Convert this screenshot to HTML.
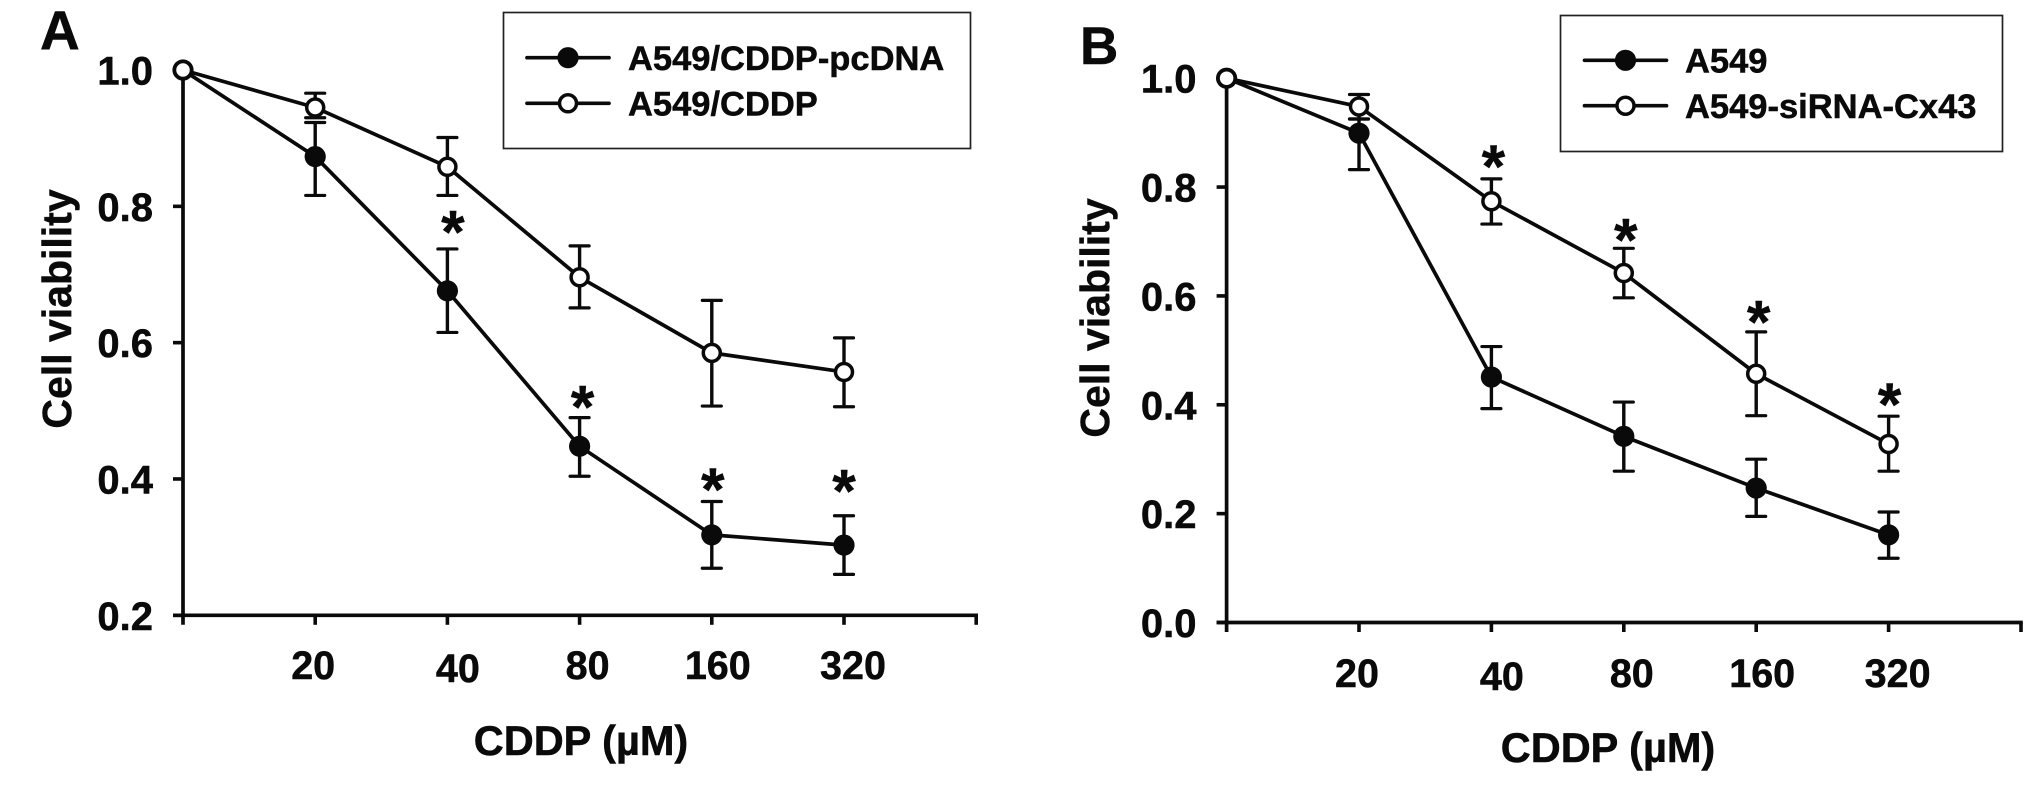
<!DOCTYPE html>
<html lang="en">
<head>
<meta charset="utf-8">
<title>Cell viability vs CDDP</title>
<style>
html,body{margin:0;padding:0;background:#fff;width:2035px;height:786px;overflow:hidden}
svg{display:block}
text{font-family:"Liberation Sans",sans-serif;font-weight:bold;fill:#0a0a0a;stroke:#0a0a0a;stroke-width:.5px}
</style>
</head>
<body>
<svg id="figure" xmlns="http://www.w3.org/2000/svg" width="2035" height="786" viewBox="0 0 2035 786">
  <rect x="0" y="0" width="2035" height="786" fill="#fff"/>
</svg>
<script>
// Shared categories
const doseLabels = ["20", "40", "80", "160", "320"];

// Panel A data
const aTicks = [0.2, 0.4, 0.6, 0.8, 1.0];
const aFilledName = "A549/CDDP-pcDNA";
const aFilled = [1.0, 0.873, 0.676, 0.448, 0.318, 0.303];
const aFilledHigh = [null, 0.923, 0.7375, 0.490, 0.367, 0.346];
const aFilledLow = [null, 0.816, 0.615, 0.404, 0.269, 0.260];
const aOpenName = "A549/CDDP";
const aOpen = [1.0, 0.945, 0.858, 0.696, 0.585, 0.557];
const aOpenHigh = [null, 0.966, 0.901, 0.742, 0.662, 0.607];
const aOpenLow = [null, 0.930, 0.816, 0.651, 0.507, 0.506];
const aStars = [null, null, 0.775, 0.518, 0.397, 0.395];

// Panel B data
const bTicks = [0.0, 0.2, 0.4, 0.6, 0.8, 1.0];
const bFilledName = "A549";
const bFilled = [1.0, 0.899, 0.451, 0.342, 0.247, 0.161];
const bFilledHigh = [null, 0.925, 0.507, 0.405, 0.300, 0.203];
const bFilledLow = [null, 0.832, 0.393, 0.278, 0.195, 0.118];
const bOpenName = "A549-siRNA-Cx43";
const bOpen = [1.0, 0.948, 0.774, 0.642, 0.457, 0.328];
const bOpenHigh = [null, 0.970, 0.815, 0.6875, 0.534, 0.379];
const bOpenLow = [null, 0.925, 0.732, 0.5965, 0.380, 0.278];
const bStars = [null, null, 0.853, 0.718, 0.568, 0.416];

const svg = document.getElementById("figure");
const NS = "http://www.w3.org/2000/svg";
const INK = "#0a0a0a";

function make(tag, attrs, parent) {
  const el = document.createElementNS(NS, tag);
  for (const k in attrs) el.setAttribute(k, attrs[k]);
  parent.appendChild(el);
  return el;
}

function drawPanel(p) {
  const x = i => p.x0 + p.xStep * i;
  const y = v => p.yBase - (v - p.yMin) * p.yPerUnit;

  const g = make("g", {}, svg);
  
  

  const letter = make("text", {x: p.letterX, y: p.letterY, "font-size": p.letterSize}, g);
  
  
  letter.textContent = p.letter;

  // Axes
  const yAxis = make("line", {x1: x(0), x2: x(0), y1: y(1), y2: p.yBase + 9.5, stroke: INK, "stroke-width": 3.7}, g);
  
  
  const xAxis = make("line", {x1: x(0) - 10, x2: x(6) + 1.8, y1: p.yBase, y2: p.yBase, stroke: INK, "stroke-width": 3.7}, g);
  
  

  p.ticks.forEach(t => {
    const tick = make("line", {x1: x(0) - 10, x2: x(0), y1: y(t), y2: y(t), stroke: INK, "stroke-width": 3.6}, g);
    
    
    const label = make("text", {x: p.yLabelRight, y: y(t) + 14.5, "font-size": 40, "text-anchor": "end"}, g);
    
    
    label.textContent = t.toFixed(1);
  });

  for (let i = 1; i <= 6; i++) {
    const tick = make("line", {x1: x(i), x2: x(i), y1: p.yBase, y2: p.yBase + 9.5, stroke: INK, "stroke-width": 3.6}, g);
    
    
  }

  const nudgeX = [-2, 10.5, 8, 6, 9];
  const nudgeY = [0, 3, 0, 0, 0];
  doseLabels.forEach((d, i) => {
    const label = make("text", {x: x(i + 1) + nudgeX[i], y: p.xLabelBase + nudgeY[i], "font-size": 39.5, "text-anchor": "middle"}, g);
    
    
    label.textContent = d;
  });

  const xTitle = make("text", {x: p.xTitleX, y: p.xTitleY, "font-size": 41.5, "text-anchor": "middle"}, g);
  
  
  xTitle.textContent = "CDDP (\u00B5M)";

  const yTitle = make("text", {x: 0, y: 0, "font-size": 41, "text-anchor": "middle", transform: "translate(" + p.yTitleX + " " + p.yTitleY + ") rotate(-90)"}, g);
  
  
  yTitle.textContent = "Cell viability";

  // Series
  p.series.forEach(s => {
    const sg = make("g", {}, g);
    
    

    s.values.forEach((v, i) => {
      if (s.high[i] === null) return;
      const bar = make("line", {x1: x(i), x2: x(i), y1: y(s.high[i]), y2: y(s.low[i]), stroke: INK, "stroke-width": 3.4}, sg);
      
      
      const capTop = make("line", {x1: x(i) - 9.5, x2: x(i) + 9.5, y1: y(s.high[i]), y2: y(s.high[i]), stroke: INK, "stroke-width": 3.2, "stroke-linecap": "round"}, sg);
      
      
      const capLow = make("line", {x1: x(i) - 9.5, x2: x(i) + 9.5, y1: y(s.low[i]), y2: y(s.low[i]), stroke: INK, "stroke-width": 3.2, "stroke-linecap": "round"}, sg);
      
      
    });

    const pts = s.values.map((v, i) => x(i) + "," + y(v)).join(" ");
    const line = make("polyline", {points: pts, fill: "none", stroke: INK, "stroke-width": 3.7, "stroke-linejoin": "round"}, sg);
    
    

    s.values.forEach((v, i) => {
      const pt = make("circle", s.open
        ? {cx: x(i), cy: y(v), r: 8.5, fill: "#fff", stroke: INK, "stroke-width": 3.5}
        : {cx: x(i), cy: y(v), r: 10.6, fill: INK}, sg);
      
      
    });
  });

  // Significance asterisks
  p.stars.forEach((v, i) => {
    if (v === null) return;
    const star = make("text", {x: x(i) + p.starShift[i], y: y(v) + 29, "font-size": 60, "text-anchor": "middle"}, g);
    
    
    star.textContent = "*";
  });

  // Legend
  const lg = make("g", {}, g);
  
  
  const box = make("rect", {x: p.lgX, y: p.lgY, width: p.lgW, height: p.lgH, fill: "#fff", stroke: "#222", "stroke-width": 1.7}, lg);
  
  
  p.series.forEach((s, i) => {
    const ly = p.lgLineY + i * p.lgRow;
    const e = make("g", {}, lg);
    
    
    const l = make("line", {x1: p.lgLineX, x2: p.lgLineX + 82, y1: ly, y2: ly, stroke: INK, "stroke-width": 3.7, "stroke-linecap": "round"}, e);
    
    
    const c = make("circle", s.open
      ? {cx: p.lgLineX + 41, cy: ly, r: 8.5, fill: "#fff", stroke: INK, "stroke-width": 3.5}
      : {cx: p.lgLineX + 41, cy: ly, r: 10.6, fill: INK}, e);
    
    
    const t = make("text", {x: p.lgTextX, y: ly + 12.3, "font-size": 34.5}, e);
    
    
    t.textContent = s.name;
  });
}

drawPanel({
  id: "panel-a", letter: "A", letterX: 40, letterY: 49, letterSize: 55,
  x0: 183, xStep: 132.2, yBase: 615.3, yMin: 0.2, yPerUnit: 681.6,
  ticks: aTicks, yLabelRight: 153, xLabelBase: 679,
  xTitleX: 581, xTitleY: 755, yTitleX: 71, yTitleY: 309,
  stars: aStars, starShift: [0, 0, 5.5, 3, 1, 0],
  lgX: 503.5, lgY: 12.5, lgW: 467, lgH: 136, lgLineX: 527, lgLineY: 57.7, lgRow: 45.6, lgTextX: 628,
  series: [
    {key: "filled", name: aFilledName, open: false, values: aFilled, high: aFilledHigh, low: aFilledLow},
    {key: "open", name: aOpenName, open: true, values: aOpen, high: aOpenHigh, low: aOpenLow}
  ]
});

drawPanel({
  id: "panel-b", letter: "B", letterX: 1080, letterY: 64, letterSize: 53,
  x0: 1226.6, xStep: 132.4, yBase: 622.5, yMin: 0, yPerUnit: 544.3,
  ticks: bTicks, yLabelRight: 1196.5, xLabelBase: 687,
  xTitleX: 1608, xTitleY: 762, yTitleX: 1109, yTitleY: 318,
  stars: bStars, starShift: [0, 0, 2, 2, 2.5, 1],
  lgX: 1560.5, lgY: 15.5, lgW: 442, lgH: 136, lgLineX: 1584.5, lgLineY: 60.3, lgRow: 45.4, lgTextX: 1685,
  series: [
    {key: "filled", name: bFilledName, open: false, values: bFilled, high: bFilledHigh, low: bFilledLow},
    {key: "open", name: bOpenName, open: true, values: bOpen, high: bOpenHigh, low: bOpenLow}
  ]
});
</script>
</body>
</html>
